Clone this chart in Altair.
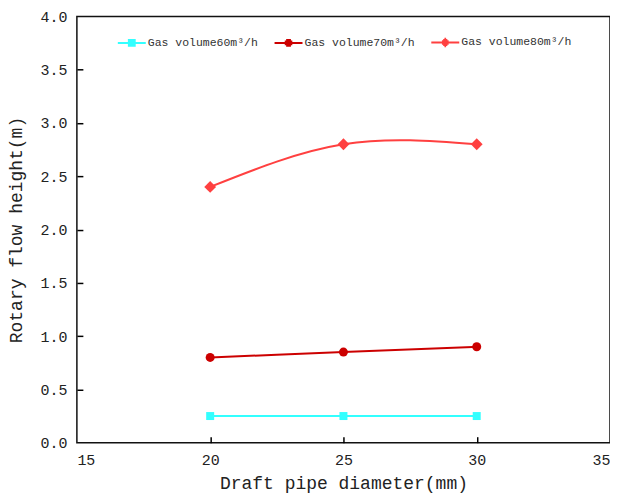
import altair as alt
import pandas as pd

series = ["Gas volume60m³/h", "Gas volume70m³/h", "Gas volume80m³/h"]
diameters = [20, 25, 30]
h60 = [0.25, 0.25, 0.25]
h70 = [0.80, 0.85, 0.90]
h80 = [2.40, 2.80, 2.80]
colors = ["#33FFFF", "#CC0000", "#FF4040"]
shapes = ["square", "circle", "diamond"]
marker_sizes = [64, 81, 140]
x_ticks = [20, 25, 30]
y_ticks = [0.5, 1.0, 1.5, 2.0, 2.5, 3.0, 3.5]

rows = []
for name, vals in zip(series, [h60, h70, h80]):
    for d, v in zip(diameters, vals):
        rows.append({"series": name, "d": d, "h": v})
df = pd.DataFrame(rows)

FONT = "Liberation Mono"
W, H = 534, 427


# legend glyphs: a horizontal line with a marker drawn as stroked scanlines
def glyph(spans):
    p = "M-1,0L1,0"
    for y, hw in spans:
        p += f"M{-hw},{y}L{hw},{y}"
    return p


sq = [(-0.21, 0.28), (-0.105, 0.28), (0.105, 0.28), (0.21, 0.28)]
ci = [(-0.21, 0.17), (-0.105, 0.27), (0.105, 0.27), (0.21, 0.17)]
di = [(-0.27, 0.06), (-0.18, 0.15), (-0.09, 0.24), (0.0, 0.33), (0.09, 0.24), (0.18, 0.15), (0.27, 0.06)]
leg_paths = [glyph(sq), glyph(ci), glyph(di)]

legend = alt.Legend(
    title=None,
    orient="none",
    legendX=40,
    legendY=11,
    padding=0,
    direction="horizontal",
    columns=3,
    symbolSize=784,
    symbolStrokeWidth=2,
    labelFont=FONT,
    labelFontSize=11.5,
    labelColor="#333",
    labelOffset=1,
    columnPadding=12,
)

xscale = alt.Scale(domain=[15, 35], nice=False, zero=False)
yscale = alt.Scale(domain=[0, 4], nice=False)
cscale = alt.Scale(domain=series, range=colors)

xaxis = alt.Axis(
    title="Draft pipe diameter(mm)",
    values=[15, 20, 25, 30, 35],
    format="d",
    ticks=False,
    domain=False,
    grid=False,
    labelPadding=10,
    titlePadding=7,
)
yaxis = alt.Axis(
    title="Rotary flow height(m)",
    values=[0, 0.5, 1.0, 1.5, 2.0, 2.5, 3.0, 3.5, 4.0],
    format=".1f",
    ticks=False,
    domain=False,
    grid=False,
    labelPadding=10,
    titlePadding=14,
)
# inward ticks: axes on the opposite edges, shifted onto the bottom/left frame
xaxis_in = alt.Axis(
    orient="top", offset=-H, values=x_ticks, labels=False, title=None,
    domain=False, grid=False, ticks=True, tickSize=6, tickWidth=1.5, tickColor="#000",
)
yaxis_in = alt.Axis(
    orient="right", offset=-W, values=y_ticks, labels=False, title=None,
    domain=False, grid=False, ticks=True, tickSize=6, tickWidth=1.5, tickColor="#000",
)

base = alt.Chart(df)

layers = []
for i, (name, col, shp, sz) in enumerate(zip(series, colors, shapes, marker_sizes)):
    sub = base.transform_filter(alt.datum.series == name)
    if i == 0:
        enc = dict(x=alt.X("d:Q", scale=xscale, axis=xaxis), y=alt.Y("h:Q", scale=yscale, axis=yaxis))
    else:
        enc = dict(x=alt.X("d:Q", scale=xscale, axis=None), y=alt.Y("h:Q", scale=yscale, axis=None))
    layers.append(sub.mark_line(interpolate="natural", strokeWidth=2, color=col).encode(**enc))
    layers.append(
        sub.mark_point(filled=True, opacity=1, shape=shp, size=sz, color=col).encode(
            x=alt.X("d:Q", scale=xscale, axis=None), y=alt.Y("h:Q", scale=yscale, axis=None)
        )
    )

leg = base.transform_filter("datum.d < 0").mark_point(filled=False, opacity=1, strokeWidth=2).encode(
    x=alt.X("d:Q", scale=xscale, axis=xaxis_in),
    y=alt.Y("h:Q", scale=yscale, axis=yaxis_in),
    color=alt.Color("series:N", scale=cscale, legend=legend),
    shape=alt.Shape("series:N", scale=alt.Scale(domain=series, range=leg_paths), legend=legend),
)

chart = (
    alt.layer(*layers, leg)
    .resolve_axis(x="independent", y="independent")
    .properties(
        width=W,
        height=H,
        autosize=alt.AutoSizeParams(type="none"),
        padding={"left": 69, "top": 8, "right": 0, "bottom": 54},
    )
    .configure_view(stroke="#111", strokeWidth=1.5)
    .configure_axis(
        labelFont=FONT,
        labelFontSize=15,
        labelColor="#222",
        titleFont=FONT,
        titleFontSize=18,
        titleFontWeight="normal",
        titleColor="#222",
    )
)

chart.save("out.html", embed_options={"renderer": "svg", "actions": False})
